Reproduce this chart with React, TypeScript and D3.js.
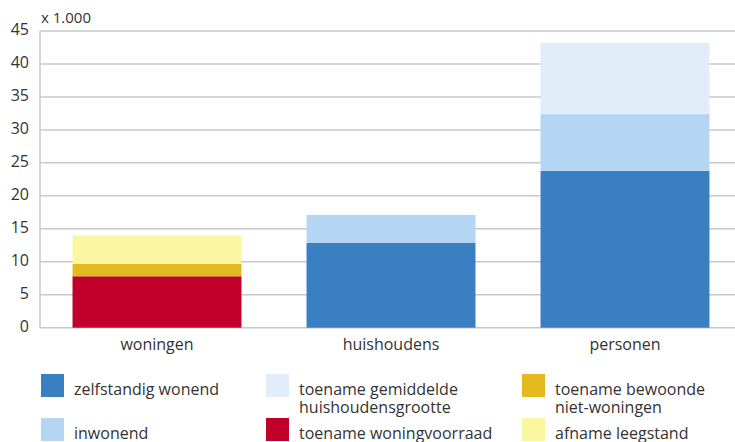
import React from "react";
import * as d3 from "d3";

const categories = ["woningen", "huishoudens", "personen"];
const seriesKeys = [
  "zelfstandig wonend",
  "inwonend",
  "toename gemiddelde huishoudensgrootte",
  "toename woningvoorraad",
  "toename bewoonde niet-woningen",
  "afname leegstand",
];
const zelfstandigWonend = [0, 12.9, 23.8];
const inwonend = [0, 4.2, 8.6];
const toenameGemiddelde = [0, 0, 10.8];
const toenameWoningvoorraad = [7.8, 0, 0];
const toenameBewoonde = [1.9, 0, 0];
const afnameLeegstand = [4.3, 0, 0];
const yTicks = [0, 5, 10, 15, 20, 25, 30, 35, 40, 45];
const unitLabel = "x 1.000";

const colors: Record<string, string> = {
  "zelfstandig wonend": "#3a7fc2",
  inwonend: "#b4d6f3",
  "toename gemiddelde huishoudensgrootte": "#e1edf9",
  "toename woningvoorraad": "#c0002a",
  "toename bewoonde niet-woningen": "#e4b91f",
  "afname leegstand": "#fbf6a0",
};

const legendItems = [
  { key: "zelfstandig wonend", lines: ["zelfstandig wonend"], col: 0, row: 0 },
  { key: "toename gemiddelde huishoudensgrootte", lines: ["toename gemiddelde", "huishoudensgrootte"], col: 1, row: 0 },
  { key: "toename bewoonde niet-woningen", lines: ["toename bewoonde", "niet-woningen"], col: 2, row: 0 },
  { key: "inwonend", lines: ["inwonend"], col: 0, row: 1 },
  { key: "toename woningvoorraad", lines: ["toename woningvoorraad"], col: 1, row: 1 },
  { key: "afname leegstand", lines: ["afname leegstand"], col: 2, row: 1 },
];

export default function App() {
  const W = 735, H = 442;
  const left = 40, right = 742, top = 31, bottom = 327.7;
  const font = "'Open Sans', sans-serif";

  const rows = categories.map((c, i) => ({
    category: c,
    "zelfstandig wonend": zelfstandigWonend[i],
    inwonend: inwonend[i],
    "toename gemiddelde huishoudensgrootte": toenameGemiddelde[i],
    "toename woningvoorraad": toenameWoningvoorraad[i],
    "toename bewoonde niet-woningen": toenameBewoonde[i],
    "afname leegstand": afnameLeegstand[i],
  }));
  const stacked = d3.stack<any>().keys(seriesKeys)(rows);

  const x = d3.scaleBand<string>().domain(categories).range([left, right]).paddingInner(0.278).paddingOuter(0.139);
  const y = d3.scaleLinear().domain([0, 45]).range([bottom, top]);

  const colX = [41, 266, 522];
  const rowY = [374, 418];

  return (
    <svg width={W} height={H} style={{ position: "fixed", left: 0, top: 0, background: "#fff" }} fontFamily={font}>
      {yTicks.map((t) => (
        <g key={t}>
          <line x1={left} x2={W} y1={y(t)} y2={y(t)} stroke="#c8c8c8" strokeWidth={1.5} />
          <text x={29} y={y(t) + 4} textAnchor="end" fontSize={16} fill="#333">{t}</text>
        </g>
      ))}
      <line x1={left} x2={left} y1={top} y2={bottom} stroke="#c8c8c8" strokeWidth={1.5} />
      <text x={41} y={23} fontSize={15} fill="#333">{unitLabel}</text>
      {stacked.map((s) =>
        s.map((d, i) =>
          d[1] - d[0] > 0 ? (
            <rect key={s.key + i} x={x(categories[i])} width={x.bandwidth()} y={y(d[1])} height={y(d[0]) - y(d[1])} fill={colors[s.key]} />
          ) : null
        )
      )}
      {categories.map((c) => (
        <text key={c} x={(x(c) as number) + x.bandwidth() / 2} y={350} textAnchor="middle" fontSize={16} fill="#333">{c}</text>
      ))}
      {legendItems.map((it) => (
        <g key={it.key}>
          <rect x={colX[it.col]} y={rowY[it.row]} width={23} height={23} fill={colors[it.key]} />
          {it.lines.map((l, j) => (
            <text key={j} x={colX[it.col] + 33} y={rowY[it.row] + 21 + j * 18} fontSize={16} fill="#333">{l}</text>
          ))}
        </g>
      ))}
    </svg>
  );
}
